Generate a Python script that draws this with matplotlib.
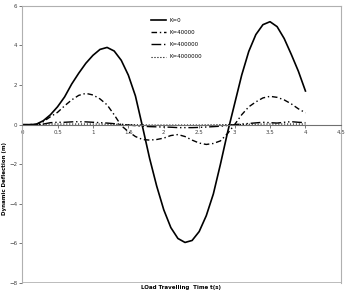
import numpy as np
import matplotlib
matplotlib.use('Agg')
import matplotlib.pyplot as plt

# time axis (s)
t = [0.0, 0.1, 0.2, 0.3, 0.4, 0.5, 0.6, 0.7, 0.8, 0.9, 1.0,
     1.1, 1.2, 1.3, 1.4, 1.5, 1.6, 1.7, 1.8, 1.9, 2.0,
     2.1, 2.2, 2.3, 2.4, 2.5, 2.6, 2.7, 2.8, 2.9, 3.0,
     3.1, 3.2, 3.3, 3.4, 3.5, 3.6, 3.7, 3.8, 3.9, 4.0]

# deflections for each foundation stiffness
k0 = [0, 0, 0.02, 0.2, 0.5, 0.9, 1.4, 2.05, 2.6, 3.1, 3.5,
      3.8, 3.9, 3.72, 3.25, 2.5, 1.45, -0.1, -1.7, -3.1, -4.3,
      -5.2, -5.75, -5.95, -5.85, -5.4, -4.6, -3.5, -2.0, -0.4, 1.05,
      2.5, 3.7, 4.55, 5.05, 5.2, 4.95, 4.35, 3.55, 2.7, 1.7]
k40000 = [0, 0, 0.02, 0.15, 0.4, 0.62, 0.95, 1.25, 1.48, 1.58, 1.5,
          1.3, 1.0, 0.5, -0.05, -0.35, -0.6, -0.75, -0.78, -0.75, -0.68,
          -0.55, -0.5, -0.6, -0.78, -0.93, -1.0, -0.95, -0.82, -0.45, 0.0,
          0.5, 0.9, 1.15, 1.35, 1.43, 1.38, 1.25, 1.05, 0.8, 0.6]
k400000 = [0, 0, 0, 0.03, 0.1, 0.12, 0.12, 0.14, 0.15, 0.14, 0.12,
           0.1, 0.08, 0.05, 0.02, -0.02, -0.05, -0.08, -0.1, -0.11, -0.12,
           -0.13, -0.15, -0.15, -0.15, -0.14, -0.12, -0.1, -0.08, -0.04, 0.0,
           0.03, 0.06, 0.09, 0.12, 0.1, 0.08, 0.12, 0.15, 0.12, 0.1]
k4000000 = [0, 0, 0.01, 0.02, 0.03, 0.03, 0.03, 0.03, 0.03, 0.03, 0.03,
            0.03, 0.02, 0.02, 0.01, 0.0, -0.01, -0.01, -0.02, -0.02, -0.02,
            -0.02, -0.02, -0.02, -0.02, -0.02, -0.01, -0.01, 0.0, 0.0, 0.01,
            0.01, 0.02, 0.02, 0.03, 0.03, 0.03, 0.03, 0.03, 0.03, 0.03]

xticks = [0, 0.5, 1, 1.5, 2, 2.5, 3, 3.5, 4, 4.5]
xticklabels = ['0', '0.5', '1', '1.5', '2', '2.5', '3', '3.5', '4', '4.5']
yticks = [-8, -6, -4, -2, 0, 2, 4, 6]

fig = plt.figure(figsize=(3.45, 2.93), dpi=100)
ax = fig.add_axes([0.064, 0.034, 0.924, 0.946])

ax.plot(t, k0, '-', color='black', lw=1.2, label='K=0')
ax.plot(t, k40000, color='black', lw=1.0, dashes=(4, 2, 1, 2), label='K=40000')
ax.plot(t, k400000, color='black', lw=1.0, dashes=(7, 2, 1, 2, 1, 2), label='K=400000')
ax.plot(t, k4000000, ':', color='black', lw=0.8, label='K=4000000')

ax.set_xlim(0, 4.5)
ax.set_ylim(-8, 6)
ax.set_xticks(xticks)
ax.set_xticklabels(xticklabels)
ax.set_yticks(yticks)

# x axis crosses at zero, grey frame around the plot area
ax.spines['bottom'].set_position(('data', 0))
ax.spines['bottom'].set_color('#707070')
ax.spines['bottom'].set_linewidth(0.8)
for s in ['top', 'right', 'left']:
    ax.spines[s].set_color('#b0b0b0')
    ax.spines[s].set_linewidth(0.8)
ax.axhline(-8, color='#b0b0b0', lw=1.2)

ax.tick_params(axis='both', labelsize=4, length=2, width=0.5, colors='#404040', pad=1.5)

ax.legend(loc='upper left', bbox_to_anchor=(0.39, 0.975), frameon=False,
          fontsize=4, handlelength=2.6, handletextpad=0.7, labelspacing=1.3)

fig.text(0.014, 0.392, 'Dynamic Deflection (m)', rotation=90, fontsize=4,
         fontweight='bold', va='center', ha='center')
fig.text(0.525, 0.01, 'LOad Travelling  Time t(s)', fontsize=4,
         fontweight='bold', ha='center', va='bottom')

fig.savefig('out.png', dpi=100)
